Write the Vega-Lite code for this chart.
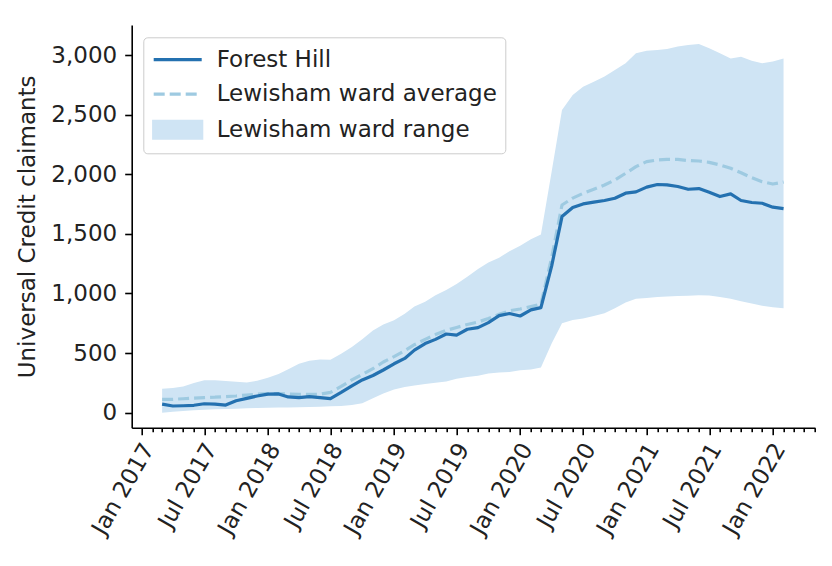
{
  "$schema": "https://vega.github.io/schema/vega-lite/v6.json",
  "autosize": "none",
  "width": 683.3,
  "height": 402.7,
  "padding": {"left": 131.7, "top": 25, "right": 17, "bottom": 138.3},
  "background": "white",
  "config": {
    "view": {"stroke": null},
    "font": "DejaVu Sans",
    "axis": {
      "grid": false,
      "domainColor": "#000000",
      "domainWidth": 1.6,
      "tickColor": "#000000",
      "tickWidth": 1.6,
      "labelFont": "DejaVu Sans",
      "labelFontSize": 23,
      "labelColor": "#222222",
      "titleFont": "DejaVu Sans",
      "titleFontSize": 23,
      "titleFontWeight": "normal",
      "titleColor": "#222222"
    }
  },
  "data": {
    "values": [
      {"date": "2017-03-01", "fh": 72, "avg": 112, "lo": 0, "hi": 201},
      {"date": "2017-04-01", "fh": 56, "avg": 112, "lo": 8, "hi": 207},
      {"date": "2017-05-01", "fh": 58, "avg": 117, "lo": 14, "hi": 220},
      {"date": "2017-06-01", "fh": 62, "avg": 122, "lo": 20, "hi": 250},
      {"date": "2017-07-01", "fh": 75, "avg": 127, "lo": 24, "hi": 272},
      {"date": "2017-08-01", "fh": 72, "avg": 130, "lo": 28, "hi": 272},
      {"date": "2017-09-01", "fh": 64, "avg": 135, "lo": 31, "hi": 266},
      {"date": "2017-10-01", "fh": 100, "avg": 140, "lo": 34, "hi": 260},
      {"date": "2017-11-01", "fh": 120, "avg": 148, "lo": 37, "hi": 254},
      {"date": "2017-12-01", "fh": 140, "avg": 155, "lo": 39, "hi": 268},
      {"date": "2018-01-01", "fh": 155, "avg": 160, "lo": 41, "hi": 292},
      {"date": "2018-02-01", "fh": 157, "avg": 160, "lo": 43, "hi": 325},
      {"date": "2018-03-01", "fh": 132, "avg": 156, "lo": 44, "hi": 365},
      {"date": "2018-04-01", "fh": 126, "avg": 153, "lo": 46, "hi": 410},
      {"date": "2018-05-01", "fh": 134, "avg": 153, "lo": 48, "hi": 436},
      {"date": "2018-06-01", "fh": 126, "avg": 155, "lo": 50, "hi": 446},
      {"date": "2018-07-01", "fh": 118, "avg": 170, "lo": 53, "hi": 444},
      {"date": "2018-08-01", "fh": 170, "avg": 220, "lo": 57, "hi": 495},
      {"date": "2018-09-01", "fh": 225, "avg": 275, "lo": 65, "hi": 550},
      {"date": "2018-10-01", "fh": 275, "avg": 320, "lo": 80, "hi": 615},
      {"date": "2018-11-01", "fh": 312, "avg": 370, "lo": 120, "hi": 690},
      {"date": "2018-12-01", "fh": 358, "avg": 425, "lo": 160, "hi": 740},
      {"date": "2019-01-01", "fh": 410, "avg": 470, "lo": 195, "hi": 775},
      {"date": "2019-02-01", "fh": 455, "avg": 520, "lo": 215, "hi": 830},
      {"date": "2019-03-01", "fh": 525, "avg": 570, "lo": 228, "hi": 890},
      {"date": "2019-04-01", "fh": 580, "avg": 615, "lo": 240, "hi": 930},
      {"date": "2019-05-01", "fh": 615, "avg": 655, "lo": 252, "hi": 985},
      {"date": "2019-06-01", "fh": 660, "avg": 690, "lo": 262, "hi": 1030},
      {"date": "2019-07-01", "fh": 650, "avg": 715, "lo": 285, "hi": 1080},
      {"date": "2019-08-01", "fh": 700, "avg": 740, "lo": 300, "hi": 1140},
      {"date": "2019-09-01", "fh": 713, "avg": 760, "lo": 310, "hi": 1205},
      {"date": "2019-10-01", "fh": 755, "avg": 790, "lo": 328, "hi": 1260},
      {"date": "2019-11-01", "fh": 814, "avg": 825, "lo": 336, "hi": 1300},
      {"date": "2019-12-01", "fh": 832, "avg": 855, "lo": 342, "hi": 1355},
      {"date": "2020-01-01", "fh": 811, "avg": 870, "lo": 355, "hi": 1400},
      {"date": "2020-02-01", "fh": 862, "avg": 890, "lo": 362, "hi": 1455},
      {"date": "2020-03-01", "fh": 881, "avg": 910, "lo": 378, "hi": 1495},
      {"date": "2020-04-01", "fh": 1230, "avg": 1300, "lo": 580, "hi": 2020},
      {"date": "2020-05-01", "fh": 1645, "avg": 1742, "lo": 750, "hi": 2539},
      {"date": "2020-06-01", "fh": 1721, "avg": 1800, "lo": 778, "hi": 2665},
      {"date": "2020-07-01", "fh": 1751, "avg": 1840, "lo": 790, "hi": 2735},
      {"date": "2020-08-01", "fh": 1766, "avg": 1874, "lo": 810, "hi": 2777},
      {"date": "2020-09-01", "fh": 1780, "avg": 1910, "lo": 835, "hi": 2819},
      {"date": "2020-10-01", "fh": 1799, "avg": 1952, "lo": 875, "hi": 2875},
      {"date": "2020-11-01", "fh": 1841, "avg": 2008, "lo": 925, "hi": 2931},
      {"date": "2020-12-01", "fh": 1852, "avg": 2064, "lo": 955, "hi": 3014},
      {"date": "2021-01-01", "fh": 1892, "avg": 2106, "lo": 962, "hi": 3037},
      {"date": "2021-02-01", "fh": 1914, "avg": 2120, "lo": 970, "hi": 3043},
      {"date": "2021-03-01", "fh": 1911, "avg": 2125, "lo": 975, "hi": 3051},
      {"date": "2021-04-01", "fh": 1897, "avg": 2125, "lo": 978, "hi": 3071},
      {"date": "2021-05-01", "fh": 1874, "avg": 2115, "lo": 980, "hi": 3085},
      {"date": "2021-06-01", "fh": 1880, "avg": 2111, "lo": 985, "hi": 3093},
      {"date": "2021-07-01", "fh": 1849, "avg": 2100, "lo": 982, "hi": 3057},
      {"date": "2021-08-01", "fh": 1813, "avg": 2078, "lo": 970, "hi": 3014},
      {"date": "2021-09-01", "fh": 1835, "avg": 2050, "lo": 955, "hi": 2972},
      {"date": "2021-10-01", "fh": 1780, "avg": 2013, "lo": 935, "hi": 2986},
      {"date": "2021-11-01", "fh": 1763, "avg": 1971, "lo": 915, "hi": 2953},
      {"date": "2021-12-01", "fh": 1757, "avg": 1938, "lo": 898, "hi": 2931},
      {"date": "2022-01-01", "fh": 1724, "avg": 1918, "lo": 885, "hi": 2945},
      {"date": "2022-02-01", "fh": 1712, "avg": 1935, "lo": 875, "hi": 2972}
    ]
  },
  "encoding": {
    "x": {
      "field": "date",
      "type": "temporal",
      "scale": {
        "type": "utc",
        "domain": [
          {"year": 2016, "month": 12, "date": 3, "utc": true},
          {"year": 2022, "month": 5, "date": 3, "utc": true}
        ],
        "nice": false
      },
      "axis": {
        "title": null,
        "tickCount": {"interval": "month", "step": 1},
        "labelExpr": "utcmonth(datum.value) % 6 === 0 ? utcFormat(datum.value, '%b %Y') : ''",
        "labelOverlap": false,
        "labelFlush": false,
        "labelAngle": -60,
        "labelAlign": "right",
        "labelBaseline": "bottom",
        "labelPadding": 16,
        "labelOffset": 17,
        "tickSize": {"condition": {"test": "utcmonth(datum.value) % 6 === 0", "value": 7}, "value": 4}
      }
    }
  },
  "layer": [
    {
      "mark": {"type": "area", "opacity": 1},
      "encoding": {
        "y": {
          "field": "lo",
          "type": "quantitative",
          "scale": {"domain": [-126, 3252], "nice": false, "zero": false},
          "axis": {
            "values": [0, 500, 1000, 1500, 2000, 2500, 3000],
            "format": ",d",
            "tickSize": 7,
            "labelPadding": 8,
            "title": "Universal Credit claimants",
            "titlePadding": 11
          }
        },
        "y2": {"field": "hi"},
        "color": {
          "datum": "Lewisham ward range",
          "scale": {
            "domain": ["Forest Hill", "Lewisham ward average", "Lewisham ward range"],
            "range": ["#2471b0", "#9ecae1", "#cfe4f4"]
          },
          "legend": {
            "title": null,
            "orient": "none",
            "legendX": 11.6,
            "legendY": 12.3,
            "padding": 8.4,
            "strokeColor": "#cccccc",
            "fillColor": "rgba(255,255,255,0.85)",
            "cornerRadius": 4,
            "labelFont": "DejaVu Sans",
            "labelFontSize": 23,
            "labelColor": "#222222",
            "labelLimit": 0,
            "labelOffset": 37,
            "rowPadding": 8.5,
            "symbolSize": 576,
            "symbolStrokeWidth": 3.2,
            "encoding": {
              "symbols": {
                "shape": {"condition": {"test": "datum.value === 'Lewisham ward range'", "value": "M-1,-0.7H3V0.7H-1Z"}, "value": "M-1,0H3"},
                "fill": {"condition": {"test": "datum.value === 'Lewisham ward range'", "value": "#cfe4f4"}, "value": "transparent"},
                "stroke": {"condition": [
                  {"test": "datum.value === 'Lewisham ward range'", "value": "transparent"},
                  {"test": "datum.value === 'Forest Hill'", "value": "#2471b0"}
                ], "value": "#9ecae1"},
                "strokeDash": {"condition": {"test": "datum.value === 'Lewisham ward average'", "value": [11, 5]}, "value": []},
                "strokeWidth": {"value": 3.2},
                "opacity": {"value": 1}
              }
            }
          }
        }
      }
    },
    {
      "mark": {"type": "line", "strokeWidth": 3.2, "strokeDash": [11, 5], "strokeJoin": "round"},
      "encoding": {
        "y": {"field": "avg", "type": "quantitative"},
        "color": {"datum": "Lewisham ward average"}
      }
    },
    {
      "mark": {"type": "line", "strokeWidth": 3.2, "strokeJoin": "round"},
      "encoding": {
        "y": {"field": "fh", "type": "quantitative"},
        "color": {"datum": "Forest Hill"}
      }
    }
  ]
}
